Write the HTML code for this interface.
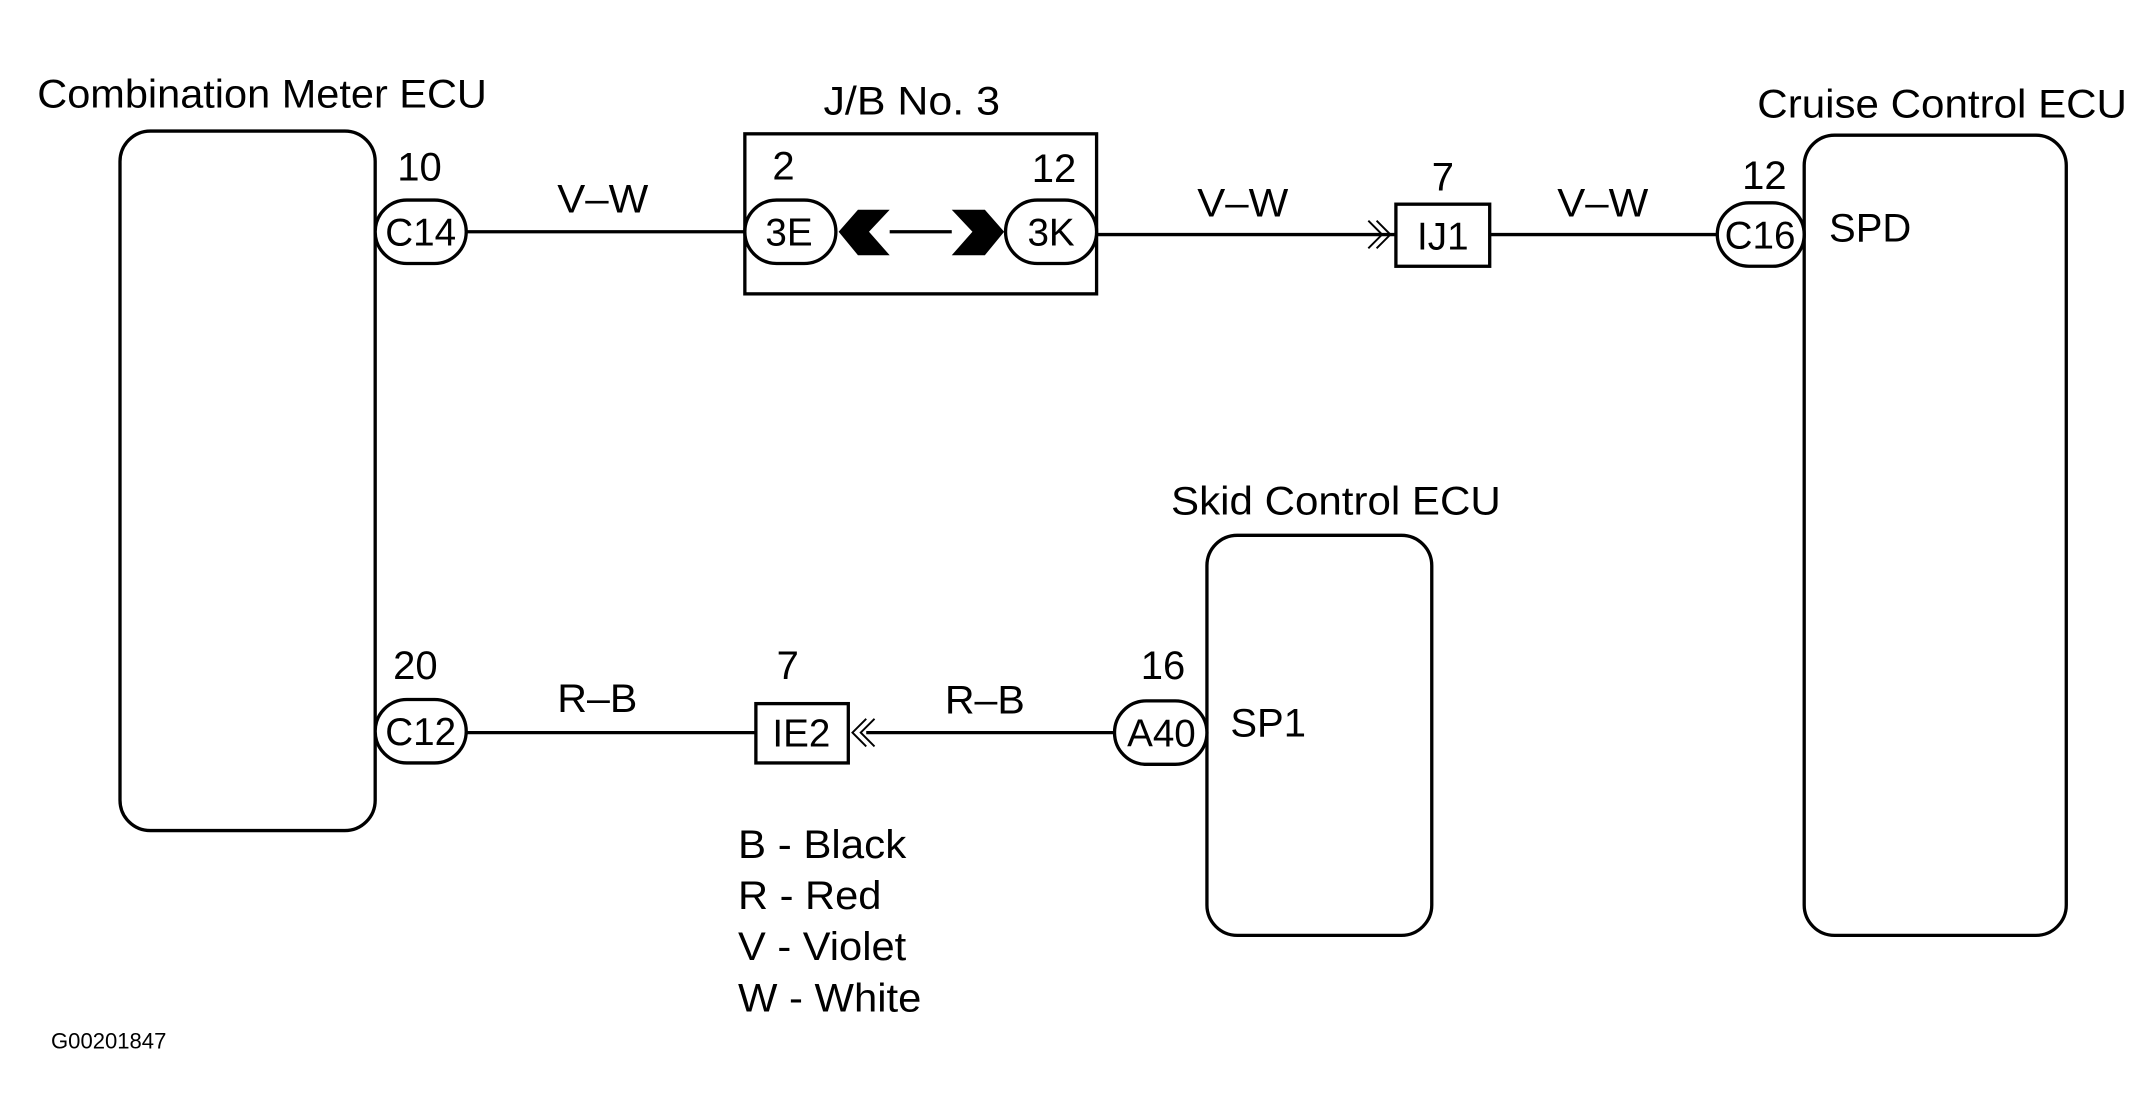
<!DOCTYPE html>
<html><head><meta charset="utf-8"><style>
html,body{margin:0;padding:0;background:#fff;}
svg{display:block;}
text{font-family:"Liberation Sans",Arial,sans-serif;fill:#000;}
</style></head><body>
<svg width="2138" height="1112" viewBox="0 0 1550 806" preserveAspectRatio="none" xmlns="http://www.w3.org/2000/svg">
<g fill="none" stroke="#000" stroke-width="2.4">
<rect x="87" y="95" width="185" height="507" rx="22"/>
<rect x="1308" y="98" width="190" height="580" rx="22"/>
<rect x="875" y="388" width="163" height="290" rx="22"/>
<rect x="540" y="97" width="255" height="116"/>
<rect x="1012" y="148" width="68" height="45"/>
<rect x="548" y="510" width="67" height="43"/>
<line x1="338" y1="168" x2="540" y2="168"/>
<line x1="645" y1="168" x2="690" y2="168"/>
<line x1="795" y1="170" x2="1012" y2="170"/>
<line x1="1080" y1="170" x2="1245" y2="170"/>
<line x1="338" y1="531" x2="548" y2="531"/>
<line x1="628" y1="531" x2="808" y2="531"/>
<rect x="272" y="145" width="66" height="46" rx="23" fill="#fff"/>
<rect x="540" y="145" width="66" height="46" rx="23" fill="#fff"/>
<rect x="729" y="145" width="66" height="46" rx="23" fill="#fff"/>
<rect x="1245" y="147" width="63" height="46" rx="23" fill="#fff"/>
<rect x="272" y="507" width="66" height="46" rx="23" fill="#fff"/>
<rect x="808" y="508" width="67" height="46" rx="23" fill="#fff"/>
<g stroke-width="1.4">
<polyline points="992,160 1002,170 992,180"/>
<polyline points="998,160 1008,170 998,180"/>
<polyline points="628,521 618,531 628,541"/>
<polyline points="634,521 624,531 634,541"/>
</g>
</g>
<polygon points="608,168 622,152 645,152 630,168 645,185 622,185" fill="#000"/>
<polygon points="728,168 714,152 690,152 705,168 690,185 714,185" fill="#000"/>
<g font-size="29">
<text x="27" y="78" textLength="326" lengthAdjust="spacingAndGlyphs">Combination Meter ECU</text>
<text x="597" y="83" textLength="128" lengthAdjust="spacingAndGlyphs">J/B No. 3</text>
<text x="1274" y="85" textLength="268" lengthAdjust="spacingAndGlyphs">Cruise Control ECU</text>
<text x="849" y="373" textLength="239" lengthAdjust="spacingAndGlyphs">Skid Control ECU</text>
<text x="288" y="131">10</text>
<text x="560" y="130">2</text>
<text x="748" y="132">12</text>
<text x="1038" y="138">7</text>
<text x="1263" y="137">12</text>
<text x="285" y="492">20</text>
<text x="563" y="492">7</text>
<text x="827" y="492">16</text>
<text x="404" y="154" textLength="66" lengthAdjust="spacingAndGlyphs">V–W</text>
<text x="868" y="157" textLength="66" lengthAdjust="spacingAndGlyphs">V–W</text>
<text x="1129" y="157" textLength="66" lengthAdjust="spacingAndGlyphs">V–W</text>
<text x="404" y="516" textLength="58" lengthAdjust="spacingAndGlyphs">R–B</text>
<text x="685" y="517" textLength="58" lengthAdjust="spacingAndGlyphs">R–B</text>
<text x="1326" y="175">SPD</text>
<text x="892" y="534">SP1</text>
<text x="535" y="622" textLength="122" lengthAdjust="spacingAndGlyphs">B - Black</text>
<text x="535" y="659" textLength="104" lengthAdjust="spacingAndGlyphs">R - Red</text>
<text x="535" y="696" textLength="122" lengthAdjust="spacingAndGlyphs">V - Violet</text>
<text x="535" y="733" textLength="133" lengthAdjust="spacingAndGlyphs">W - White</text>
</g>
<g font-size="28" text-anchor="middle">
<text x="305" y="178">C14</text>
<text x="572" y="178">3E</text>
<text x="762" y="178">3K</text>
<text x="1046" y="181">IJ1</text>
<text x="1276" y="180">C16</text>
<text x="305" y="540">C12</text>
<text x="581" y="541">IE2</text>
<text x="842" y="541">A40</text>
</g>
<text x="37" y="760" font-size="16">G00201847</text>
</svg>
</body></html>
